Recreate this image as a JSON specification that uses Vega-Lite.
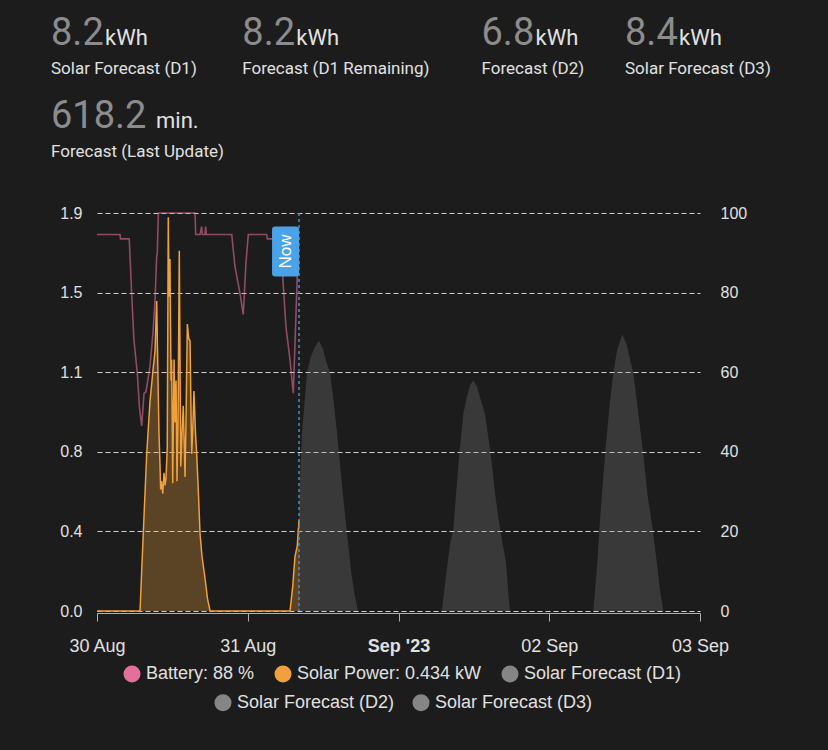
{
  "$schema": "https://vega.github.io/schema/vega-lite/v6.json",
  "background": "#1c1c1c",
  "padding": {"left": 51, "top": 0, "right": 80, "bottom": 60},
  "spacing": 40,
  "config": {
    "view": {"stroke": null},
    "axis": {"labelFont": "Liberation Sans", "labelColor": "#e0e0e0", "labelFontSize": 16},
    "legend": {"labelFont": "Liberation Sans", "labelColor": "#e0e0e0", "labelFontSize": 18, "labelLimit": 400}
  },
  "datasets": {
    "stats": [
      {"col": "c1", "row": "1", "value": "8.2", "unit": "kWh", "label": "Solar Forecast (D1)"},
      {"col": "c2", "row": "1", "value": "8.2", "unit": "kWh", "label": "Forecast (D1 Remaining)"},
      {"col": "c3", "row": "1", "value": "6.8", "unit": "kWh", "label": "Forecast (D2)"},
      {"col": "c4", "row": "1", "value": "8.4", "unit": "kWh", "label": "Solar Forecast (D3)"},
      {"col": "c1", "row": "2", "value": "618.2", "unit": "min.", "label": "Forecast (Last Update)"}
    ],
    "solar": [
      {"t": "2023-08-30T00:00", "kw": 0},
      {"t": "2023-08-30T06:51", "kw": 0},
      {"t": "2023-08-30T07:22", "kw": 0.37},
      {"t": "2023-08-30T07:55", "kw": 0.75},
      {"t": "2023-08-30T08:26", "kw": 1.0},
      {"t": "2023-08-30T08:55", "kw": 1.15},
      {"t": "2023-08-30T09:14", "kw": 1.24},
      {"t": "2023-08-30T09:30", "kw": 1.48},
      {"t": "2023-08-30T09:43", "kw": 1.1},
      {"t": "2023-08-30T09:52", "kw": 0.85},
      {"t": "2023-08-30T10:02", "kw": 0.69},
      {"t": "2023-08-30T10:08", "kw": 0.58},
      {"t": "2023-08-30T10:16", "kw": 0.62},
      {"t": "2023-08-30T10:28", "kw": 0.56},
      {"t": "2023-08-30T10:40", "kw": 0.66},
      {"t": "2023-08-30T10:50", "kw": 0.6},
      {"t": "2023-08-30T10:59", "kw": 0.63},
      {"t": "2023-08-30T11:11", "kw": 0.78},
      {"t": "2023-08-30T11:21", "kw": 1.88},
      {"t": "2023-08-30T11:28", "kw": 1.5},
      {"t": "2023-08-30T11:37", "kw": 1.68},
      {"t": "2023-08-30T11:47", "kw": 1.1},
      {"t": "2023-08-30T11:53", "kw": 1.2},
      {"t": "2023-08-30T12:03", "kw": 0.61},
      {"t": "2023-08-30T12:16", "kw": 1.2},
      {"t": "2023-08-30T12:25", "kw": 0.9},
      {"t": "2023-08-30T12:35", "kw": 1.1},
      {"t": "2023-08-30T12:44", "kw": 0.62},
      {"t": "2023-08-30T12:54", "kw": 0.9},
      {"t": "2023-08-30T13:06", "kw": 1.72},
      {"t": "2023-08-30T13:20", "kw": 0.69},
      {"t": "2023-08-30T13:32", "kw": 0.85},
      {"t": "2023-08-30T13:44", "kw": 0.98},
      {"t": "2023-08-30T14:01", "kw": 0.64},
      {"t": "2023-08-30T14:10", "kw": 0.9},
      {"t": "2023-08-30T14:23", "kw": 1.37},
      {"t": "2023-08-30T14:36", "kw": 1.3},
      {"t": "2023-08-30T14:49", "kw": 1.29},
      {"t": "2023-08-30T14:58", "kw": 0.95},
      {"t": "2023-08-30T15:05", "kw": 0.75},
      {"t": "2023-08-30T15:17", "kw": 0.9},
      {"t": "2023-08-30T15:26", "kw": 1.05},
      {"t": "2023-08-30T15:41", "kw": 0.85},
      {"t": "2023-08-30T15:52", "kw": 0.75},
      {"t": "2023-08-30T16:10", "kw": 0.55},
      {"t": "2023-08-30T16:24", "kw": 0.37},
      {"t": "2023-08-30T16:43", "kw": 0.26},
      {"t": "2023-08-30T17:11", "kw": 0.16},
      {"t": "2023-08-30T17:35", "kw": 0.06},
      {"t": "2023-08-30T18:00", "kw": 0},
      {"t": "2023-08-31T06:44", "kw": 0},
      {"t": "2023-08-31T07:10", "kw": 0.12},
      {"t": "2023-08-31T07:31", "kw": 0.26},
      {"t": "2023-08-31T07:53", "kw": 0.31},
      {"t": "2023-08-31T08:10", "kw": 0.434}
    ],
    "battery": [
      {"t": "2023-08-30T00:00", "pct": 94.6},
      {"t": "2023-08-30T03:40", "pct": 94.6},
      {"t": "2023-08-30T03:44", "pct": 93.5},
      {"t": "2023-08-30T05:08", "pct": 93.5},
      {"t": "2023-08-30T05:31", "pct": 79.8},
      {"t": "2023-08-30T05:53", "pct": 68},
      {"t": "2023-08-30T06:25", "pct": 59.7},
      {"t": "2023-08-30T06:46", "pct": 51},
      {"t": "2023-08-30T07:07", "pct": 46.5},
      {"t": "2023-08-30T07:29", "pct": 54.7},
      {"t": "2023-08-30T07:48", "pct": 55.1},
      {"t": "2023-08-30T08:26", "pct": 61.4},
      {"t": "2023-08-30T08:55", "pct": 70},
      {"t": "2023-08-30T09:14", "pct": 78.1},
      {"t": "2023-08-30T09:30", "pct": 89},
      {"t": "2023-08-30T09:36", "pct": 90},
      {"t": "2023-08-30T09:46", "pct": 100},
      {"t": "2023-08-30T15:36", "pct": 100},
      {"t": "2023-08-30T15:43", "pct": 94.6},
      {"t": "2023-08-30T16:24", "pct": 94.6},
      {"t": "2023-08-30T16:40", "pct": 96.6},
      {"t": "2023-08-30T16:46", "pct": 94.6},
      {"t": "2023-08-30T17:11", "pct": 94.6},
      {"t": "2023-08-30T17:18", "pct": 96.6},
      {"t": "2023-08-30T17:24", "pct": 94.6},
      {"t": "2023-08-30T21:27", "pct": 94.6},
      {"t": "2023-08-30T21:58", "pct": 86.5},
      {"t": "2023-08-30T22:46", "pct": 79.8},
      {"t": "2023-08-30T23:17", "pct": 74.5},
      {"t": "2023-08-30T23:43", "pct": 87.4},
      {"t": "2023-08-31T00:05", "pct": 94.6},
      {"t": "2023-08-31T03:01", "pct": 94.6},
      {"t": "2023-08-31T03:07", "pct": 93.5},
      {"t": "2023-08-31T04:48", "pct": 93.5},
      {"t": "2023-08-31T05:34", "pct": 84},
      {"t": "2023-08-31T06:05", "pct": 71.4},
      {"t": "2023-08-31T06:44", "pct": 63},
      {"t": "2023-08-31T07:15", "pct": 54.7},
      {"t": "2023-08-31T07:53", "pct": 84},
      {"t": "2023-08-31T08:10", "pct": 88}
    ],
    "forecast": [
      {"series": "Solar Forecast (D1)", "t": "2023-08-31T08:05", "kw": 0},
      {"series": "Solar Forecast (D1)", "t": "2023-08-31T08:12", "kw": 0.55},
      {"series": "Solar Forecast (D1)", "t": "2023-08-31T08:38", "kw": 0.85},
      {"series": "Solar Forecast (D1)", "t": "2023-08-31T09:00", "kw": 0.98},
      {"series": "Solar Forecast (D1)", "t": "2023-08-31T09:26", "kw": 1.14},
      {"series": "Solar Forecast (D1)", "t": "2023-08-31T10:00", "kw": 1.21},
      {"series": "Solar Forecast (D1)", "t": "2023-08-31T10:40", "kw": 1.26},
      {"series": "Solar Forecast (D1)", "t": "2023-08-31T11:20", "kw": 1.29},
      {"series": "Solar Forecast (D1)", "t": "2023-08-31T12:00", "kw": 1.25},
      {"series": "Solar Forecast (D1)", "t": "2023-08-31T12:30", "kw": 1.19},
      {"series": "Solar Forecast (D1)", "t": "2023-08-31T13:06", "kw": 1.14},
      {"series": "Solar Forecast (D1)", "t": "2023-08-31T13:40", "kw": 1.0},
      {"series": "Solar Forecast (D1)", "t": "2023-08-31T14:13", "kw": 0.85},
      {"series": "Solar Forecast (D1)", "t": "2023-08-31T15:00", "kw": 0.6},
      {"series": "Solar Forecast (D1)", "t": "2023-08-31T15:48", "kw": 0.37},
      {"series": "Solar Forecast (D1)", "t": "2023-08-31T16:30", "kw": 0.18},
      {"series": "Solar Forecast (D1)", "t": "2023-08-31T17:00", "kw": 0.08},
      {"series": "Solar Forecast (D1)", "t": "2023-08-31T17:33", "kw": 0},
      {"series": "Solar Forecast (D2)", "t": "2023-09-01T06:53", "kw": 0},
      {"series": "Solar Forecast (D2)", "t": "2023-09-01T07:30", "kw": 0.15},
      {"series": "Solar Forecast (D2)", "t": "2023-09-01T08:12", "kw": 0.32},
      {"series": "Solar Forecast (D2)", "t": "2023-09-01T08:43", "kw": 0.39},
      {"series": "Solar Forecast (D2)", "t": "2023-09-01T09:41", "kw": 0.75},
      {"series": "Solar Forecast (D2)", "t": "2023-09-01T10:19", "kw": 0.94},
      {"series": "Solar Forecast (D2)", "t": "2023-09-01T10:52", "kw": 1.02},
      {"series": "Solar Forecast (D2)", "t": "2023-09-01T11:25", "kw": 1.08},
      {"series": "Solar Forecast (D2)", "t": "2023-09-01T11:55", "kw": 1.1},
      {"series": "Solar Forecast (D2)", "t": "2023-09-01T12:30", "kw": 1.07},
      {"series": "Solar Forecast (D2)", "t": "2023-09-01T13:10", "kw": 1.0},
      {"series": "Solar Forecast (D2)", "t": "2023-09-01T13:46", "kw": 0.94},
      {"series": "Solar Forecast (D2)", "t": "2023-09-01T14:41", "kw": 0.75},
      {"series": "Solar Forecast (D2)", "t": "2023-09-01T15:25", "kw": 0.55},
      {"series": "Solar Forecast (D2)", "t": "2023-09-01T16:10", "kw": 0.39},
      {"series": "Solar Forecast (D2)", "t": "2023-09-01T17:07", "kw": 0.23},
      {"series": "Solar Forecast (D2)", "t": "2023-09-01T17:30", "kw": 0.08},
      {"series": "Solar Forecast (D2)", "t": "2023-09-01T17:45", "kw": 0},
      {"series": "Solar Forecast (D3)", "t": "2023-09-02T07:01", "kw": 0},
      {"series": "Solar Forecast (D3)", "t": "2023-09-02T07:39", "kw": 0.23},
      {"series": "Solar Forecast (D3)", "t": "2023-09-02T07:58", "kw": 0.39},
      {"series": "Solar Forecast (D3)", "t": "2023-09-02T08:53", "kw": 0.75},
      {"series": "Solar Forecast (D3)", "t": "2023-09-02T09:40", "kw": 1.0},
      {"series": "Solar Forecast (D3)", "t": "2023-09-02T10:12", "kw": 1.135},
      {"series": "Solar Forecast (D3)", "t": "2023-09-02T10:50", "kw": 1.25},
      {"series": "Solar Forecast (D3)", "t": "2023-09-02T11:38", "kw": 1.32},
      {"series": "Solar Forecast (D3)", "t": "2023-09-02T12:20", "kw": 1.27},
      {"series": "Solar Forecast (D3)", "t": "2023-09-02T13:23", "kw": 1.135},
      {"series": "Solar Forecast (D3)", "t": "2023-09-02T14:10", "kw": 0.95},
      {"series": "Solar Forecast (D3)", "t": "2023-09-02T14:58", "kw": 0.75},
      {"series": "Solar Forecast (D3)", "t": "2023-09-02T15:40", "kw": 0.55},
      {"series": "Solar Forecast (D3)", "t": "2023-09-02T16:28", "kw": 0.39},
      {"series": "Solar Forecast (D3)", "t": "2023-09-02T17:10", "kw": 0.22},
      {"series": "Solar Forecast (D3)", "t": "2023-09-02T17:38", "kw": 0.1},
      {"series": "Solar Forecast (D3)", "t": "2023-09-02T18:10", "kw": 0}
    ],
    "now": [
      {"t": "2023-08-31T08:10", "label": "Now", "level": 1.716}
    ]
  },
  "vconcat": [
    {
      "data": {"name": "stats"},
      "width": 576,
      "height": 165,
      "encoding": {
        "x": {"field": "col", "type": "nominal", "scale": {"type": "point", "domain": ["c1", "s1", "s2", "s3", "c2", "s4", "s5", "s6", "s7", "c3", "s8", "s9", "c4"], "range": [-46, 528], "padding": 0}, "axis": null},
        "y": {"field": "row", "type": "nominal", "scale": {"type": "point", "domain": ["1", "2"], "range": [45, 128], "padding": 0}, "axis": null}
      },
      "layer": [
        {"mark": {"type": "text", "align": "left", "baseline": "alphabetic", "font": "Roboto", "fontSize": 38, "color": "#8c8c8c"}, "encoding": {"text": {"field": "value"}}},
        {"transform": [{"filter": "datum.unit == 'kWh'"}], "mark": {"type": "text", "align": "left", "baseline": "alphabetic", "font": "Roboto", "fontSize": 22, "dx": 54, "color": "#e1e1e1"}, "encoding": {"text": {"field": "unit"}}},
        {"transform": [{"filter": "datum.unit == 'min.'"}], "mark": {"type": "text", "align": "left", "baseline": "alphabetic", "font": "Roboto", "fontSize": 22, "dx": 105, "color": "#e1e1e1"}, "encoding": {"text": {"field": "unit"}}},
        {"mark": {"type": "text", "align": "left", "baseline": "alphabetic", "font": "Roboto", "fontSize": 17, "dy": 28.7, "color": "#e1e1e1"}, "encoding": {"text": {"field": "label"}}}
      ]
    },
    {
      "width": 603,
      "height": 398,
      "resolve": {"scale": {"y": "independent"}},
      "layer": [
        {
          "layer": [
            {
              "data": {"name": "forecast"},
              "transform": [{"filter": "datum.series == 'Solar Forecast (D1)'"}],
              "mark": {"type": "area", "opacity": 0.28},
              "encoding": {
                "x": {"field": "t", "type": "temporal", "scale": {"domain": [{"year": 2023, "month": 8, "date": 30}, {"year": 2023, "month": 9, "date": 3}]},
                  "axis": {"title": null, "values": [{"year": 2023, "month": 8, "date": 30}, {"year": 2023, "month": 8, "date": 31}, {"year": 2023, "month": 9, "date": 1}, {"year": 2023, "month": 9, "date": 2}, {"year": 2023, "month": 9, "date": 3}],
                    "labelExpr": "date(datum.value) == 1 ? timeFormat(datum.value, \"%b '%y\") : timeFormat(datum.value, '%d %b')",
                    "labelFontWeight": {"condition": {"test": "date(datum.value) == 1", "value": "bold"}, "value": "normal"},
                    "labelFontSize": 18, "labelFlush": false, "labelOverlap": false, "grid": false, "offset": 2,
                    "domainColor": "#b0b0b0", "tickColor": "#b0b0b0", "tickSize": 8, "labelPadding": 16}},
                "y": {"field": "kw", "type": "quantitative", "stack": null, "scale": {"domain": [0, 1.9], "nice": false},
                  "axis": {"title": null, "orient": "left", "values": [0, 0.38, 0.76, 1.14, 1.52, 1.9], "format": ".1f", "grid": true, "gridDash": [5, 3], "gridColor": "#d2d2d2", "gridWidth": 1.1, "domain": false, "ticks": false, "tickSize": 0, "labelPadding": 15}},
                "color": {"datum": "Solar Forecast (D1)", "type": "nominal"}
              }
            },
            {
              "data": {"name": "forecast"},
              "transform": [{"filter": "datum.series != 'Solar Forecast (D1)'"}],
              "mark": {"type": "area", "opacity": 0.28},
              "encoding": {
                "x": {"field": "t", "type": "temporal"},
                "y": {"field": "kw", "type": "quantitative", "stack": null},
                "fill": {"field": "series", "type": "nominal", "scale": {"domain": ["Solar Forecast (D2)", "Solar Forecast (D3)"], "range": ["#858585", "#858585"]},
                  "legend": {"title": null, "orient": "none", "legendX": 117, "legendY": 693.7, "direction": "horizontal", "symbolType": "circle", "symbolSize": 290, "labelOffset": 5, "columnPadding": 17, "symbolOpacity": 1,
                    "encode": {"symbols": {"update": {"fill": {"scale": "fill", "field": "value"}, "opacity": {"value": 1}, "fillOpacity": {"value": 1}, "strokeWidth": {"value": 0}}}}}}
              }
            },
            {
              "data": {"name": "solar"},
              "mark": {"type": "area", "fillOpacity": 0.3},
              "encoding": {
                "x": {"field": "t", "type": "temporal"},
                "y": {"field": "kw", "type": "quantitative", "stack": null},
                "color": {"datum": "Solar Power", "type": "nominal"}
              }
            },
            {
              "data": {"name": "solar"},
              "mark": {"type": "line", "strokeWidth": 1.5},
              "encoding": {
                "x": {"field": "t", "type": "temporal"},
                "y": {"field": "kw", "type": "quantitative"},
                "color": {"datum": "Solar Power", "type": "nominal"}
              }
            }
          ]
        },
        {
          "data": {"name": "battery"},
          "mark": {"type": "line", "strokeWidth": 1.6, "strokeOpacity": 0.58},
          "encoding": {
            "x": {"field": "t", "type": "temporal"},
            "y": {"field": "pct", "type": "quantitative", "scale": {"domain": [0, 100], "nice": false},
              "axis": {"title": null, "orient": "right", "values": [0, 20, 40, 60, 80, 100], "grid": false, "domain": false, "ticks": false, "tickSize": 0, "labelPadding": 20}},
            "color": {"datum": "Battery", "type": "nominal",
              "scale": {"domain": ["Battery", "Solar Power", "Solar Forecast (D1)"], "range": ["#e2709b", "#f0a03c", "#858585"]},
              "legend": {"title": null, "orient": "none", "legendX": 26, "legendY": 665, "direction": "horizontal", "symbolType": "circle", "symbolSize": 290, "labelOffset": 5, "columnPadding": 19, "symbolOpacity": 1,
                "labelExpr": "datum.label == 'Battery' ? 'Battery: 88 %' : datum.label == 'Solar Power' ? 'Solar Power: 0.434 kW' : datum.label",
                "encode": {"symbols": {"update": {"fill": {"scale": "color", "field": "value"}, "opacity": {"value": 1}, "fillOpacity": {"value": 1}, "strokeWidth": {"value": 0}}}}}
            }
          }
        },
        {
          "data": {"name": "now"},
          "layer": [
            {
              "mark": {"type": "rule", "color": "#3a8ee0", "strokeDash": [3, 3], "strokeWidth": 1.5},
              "encoding": {"x": {"field": "t", "type": "temporal"}}
            },
            {
              "mark": {"type": "point", "filled": true, "opacity": 1, "color": "#4aa3e8", "size": 2500, "xOffset": -13.5,
                "shape": "M-0.42,-1 L0.42,-1 Q0.54,-1 0.54,-0.88 L0.54,0.88 Q0.54,1 0.42,1 L-0.42,1 Q-0.54,1 -0.54,0.88 L-0.54,-0.88 Q-0.54,-1 -0.42,-1 Z"},
              "encoding": {
                "x": {"field": "t", "type": "temporal"},
                "y": {"field": "level", "type": "quantitative", "scale": {"domain": [0, 1.9], "nice": false}, "axis": null}
              }
            },
            {
              "mark": {"type": "text", "angle": 270, "color": "#ffffff", "font": "Liberation Sans", "fontSize": 17, "xOffset": -13.5, "align": "center", "baseline": "middle"},
              "encoding": {
                "x": {"field": "t", "type": "temporal"},
                "y": {"field": "level", "type": "quantitative"},
                "text": {"field": "label"}
              }
            }
          ]
        }
      ]
    }
  ]
}
